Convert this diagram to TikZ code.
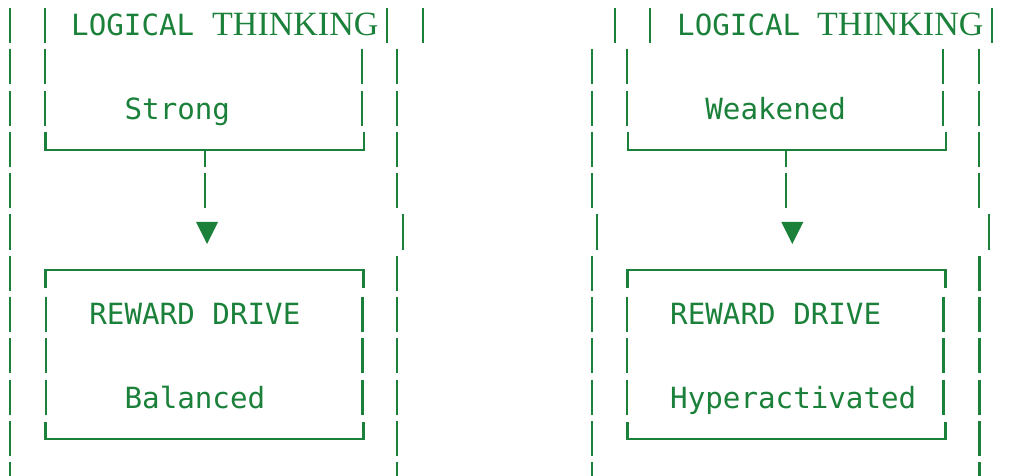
\documentclass[tikz,border=0pt]{standalone}
\usepackage{fontspec}
\setmonofont{DejaVu Sans Mono}
\newfontfamily\thinkfont{Liberation Serif}
\usepackage{xcolor}
\definecolor{ink}{HTML}{1B813A}

\begin{document}
\begin{tikzpicture}[x=1pt,y=-1pt,
		bar/.style={draw=ink,line width=2.4pt,dash pattern=on 35pt off 6.3pt},
		frame/.style={draw=ink,line width=2.5pt},
		mono/.style={inner sep=0pt,anchor=base west,text=ink,font=\ttfamily\fontsize{29.2}{35}\selectfont},
		serif/.style={inner sep=0pt,anchor=base west,text=ink,font=\thinkfont\fontsize{34}{40}\selectfont}]
		\useasboundingbox (0,0) rectangle (1021,476);
		
		% left column
		\draw[bar] (10,8) -- (10,476);  % outer left
		\draw[bar] (45,8) -- (45,126);
		\draw[bar] (362,49.3) -- (362,126);
		\draw[bar] (387,8) -- (387,43);
		\draw[bar] (423,8) -- (423,43);
		\draw[bar] (397,49.3) -- (397,208.5);  % outer right
		\draw[bar] (403,214.5) -- (403,249.5);
		\draw[bar] (397,255.8) -- (397,476);
		
		\node[mono] (logicL) at (71,36) {LOGICAL};
		\node[serif] (thinkL) at (212,36) {THINKING};
		\node[mono] (strong) at (124.4,120) {Strong};
		\draw[frame] (45.7,132.5) -- (45.7,150) -- (364,150) -- (364,132.5);
		
		\coordinate (teeL) at (205,150);
		\coordinate (stemL) at (205,208.5);
		\draw[bar,dash phase=18pt] (teeL) -- (stemL);
		\fill[ink] (196,222) -- (218,222) -- (207,244) -- cycle;  % arrow head
		
		\draw[frame] (45.7,288) -- (45.7,270) -- (363.7,270) -- (363.7,288);
		\draw[bar] (45.7,297.1) -- (45.7,415);
		\draw[bar] (362.3,297.1) -- (362.3,415);
		\draw[frame] (45.7,421.5) -- (45.7,439) -- (363.7,439) -- (363.7,421.5);
		\node[mono] (rewardL) at (89.2,324) {REWARD DRIVE};
		\node[mono] (balanced) at (124.4,408) {Balanced};
		
		% right column
		\draw[bar] (592,49.3) -- (592,208.5);  % outer left
		\draw[bar] (597,214.5) -- (597,249.5);
		\draw[bar] (592,255.8) -- (592,476);
		\draw[bar] (615,8) -- (615,43);
		\draw[bar] (650,8) -- (650,43);
		\draw[bar] (992,8) -- (992,43);
		\draw[bar] (627,49.3) -- (627,126);
		\draw[bar] (943,49.3) -- (943,126);
		\draw[bar] (979,49.3) -- (979,208.5);  % outer right
		\draw[bar] (989,214.5) -- (989,249.5);
		\draw[bar] (979.5,255.8) -- (979.5,476);
		
		\node[mono] (logicR) at (677,36) {LOGICAL};
		\node[serif] (thinkR) at (817,36) {THINKING};
		\node[mono] (weakened) at (705.2,120) {Weakened};
		\draw[frame] (628,132.5) -- (628,150) -- (946,150) -- (946,132.5);
		
		\coordinate (teeR) at (786,150);
		\coordinate (stemR) at (786,208.5);
		\draw[bar,dash phase=18pt] (teeR) -- (stemR);
		\fill[ink] (781.3,222) -- (803.3,222) -- (792.3,244) -- cycle;  % arrow head
		
		\draw[frame] (627.7,288) -- (627.7,270) -- (945.7,270) -- (945.7,288);
		\draw[bar] (627,297.1) -- (627,415);
		\draw[bar] (943.3,297.1) -- (943.3,415);
		\draw[frame] (627.7,421.5) -- (627.7,439) -- (945.7,439) -- (945.7,421.5);
		\node[mono] (rewardR) at (670,324) {REWARD DRIVE};
		\node[mono] (hyper) at (670,408) {Hyperactivated};
\end{tikzpicture}
\end{document}
